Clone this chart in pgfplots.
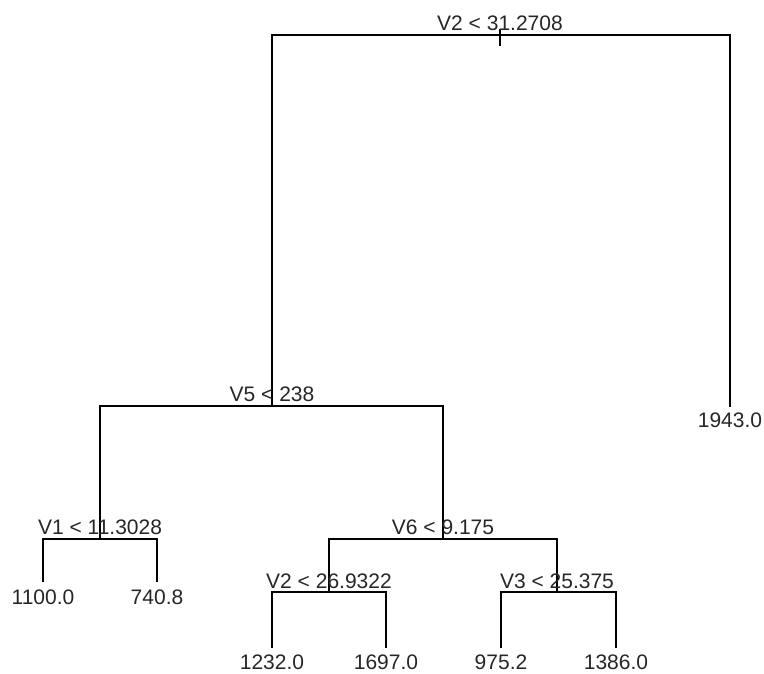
\documentclass[border=0pt]{standalone}
\usepackage{fontspec}
\setmainfont{Liberation Sans}
\usepackage{pgfplots}
\usepackage{pgfplotstable}
\pgfplotsset{compat=1.18}
\pgfplotstableread[col sep=comma]{
x,y,label
500,30,V2 < 31.2708
272,401,V5 < 238
100,534,V1 < 11.3028
443,534,V6 < 9.175
329,588,V2 < 26.9322
557,588,V3 < 25.375
730,427,1943.0
43,604,1100.0
157,604,740.8
272,669,1232.0
386,669,1697.0
501,669,975.2
616,669,1386.0
}\labels
\begin{document}
\begin{tikzpicture}
\begin{axis}[
  scale only axis, width=764pt, height=673pt,
  xmin=0, xmax=764, ymin=0, ymax=673, y dir=reverse,
  hide axis, clip=false,
  tree/.style={black, solid, line width=1.6pt, line join=miter, mark=none},
]
\addplot[tree] coordinates {(272,406) (272,35) (730,35) (730,407)};
\addplot[tree] coordinates {(500,29) (500,46)};
\addplot[tree] coordinates {(100,539) (100,406) (443,406) (443,539)};
\addplot[tree] coordinates {(43,582) (43,539) (157,539) (157,582)};
\addplot[tree] coordinates {(329,592) (329,539) (557,539) (557,592)};
\addplot[tree] coordinates {(272,648) (272,592) (386,592) (386,648)};
\addplot[tree] coordinates {(501,648) (501,592) (616,592) (616,648)};
\addplot[only marks, mark=none, draw=none, nodes near coords, point meta=explicit symbolic,
  nodes near coords style={anchor=base, inner sep=0pt, font=\fontsize{21}{25}\selectfont, text=black!85}]
  table[x=x, y=y, meta=label] {\labels};
\end{axis}
\pgfresetboundingbox
\path (current axis.south west) rectangle (current axis.north east);
\end{tikzpicture}
\end{document}
